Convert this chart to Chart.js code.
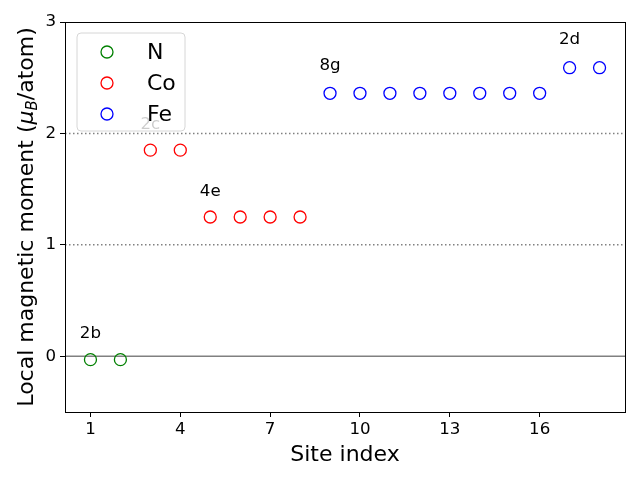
<!DOCTYPE html>
<html>
<head>
<meta charset="utf-8">
<script src="https://cdn.jsdelivr.net/npm/chart.js@4"></script>
<style>
  html, body { margin: 0; padding: 0; background: #fff; }
  #wrap { width: 640px; height: 480px; }
</style>
</head>
<body>
<div id="wrap"><canvas id="momentChart" width="640" height="480"></canvas></div>
<script>
// Dados do gráfico
const nSites = [1, 2];
const nMoments = [-0.03, -0.03];
const coSites = [3, 4, 5, 6, 7, 8];
const coMoments = [1.85, 1.85, 1.25, 1.25, 1.25, 1.25];
const feSites = [9, 10, 11, 12, 13, 14, 15, 16, 17, 18];
const feMoments = [2.36, 2.36, 2.36, 2.36, 2.36, 2.36, 2.36, 2.36, 2.59, 2.59];

const wyckoffLabels = ['2b', '2c', '4e', '8g', '2d'];
const wyckoffX = [1, 3, 5, 9, 17];
const wyckoffY = [0.16, 2.04, 1.44, 2.57, 2.80];

const xTicks = [1, 4, 7, 10, 13, 16];
const yTicks = [0, 1, 2, 3];
const dottedLevels = [1, 2];
const solidLevels = [0];

const seriesNames = ['N', 'Co', 'Fe'];
const colors = { N: '#008000', Co: '#ff0000', Fe: '#0000ff' };

const FONT = "'DejaVu Sans', sans-serif";

function toPoints(xs, ys) {
  return xs.map((x, i) => ({ x: x, y: ys[i] }));
}

function makeDataset(name, xs, ys) {
  return {
    label: name,
    data: toPoints(xs, ys),
    borderColor: colors[name],
    backgroundColor: 'rgba(0,0,0,0)',
    pointRadius: 6,
    pointHoverRadius: 6,
    pointBorderWidth: 1.3,
    pointStyle: 'circle'
  };
}

// Linhas horizontais de referência
const levelLines = {
  id: 'levelLines',
  beforeDatasetsDraw(chart) {
    const { ctx, chartArea: a, scales: { y } } = chart;
    ctx.save();
    ctx.strokeStyle = '#808080';
    ctx.lineWidth = 1.5;
    dottedLevels.forEach(v => {
      const py = y.getPixelForValue(v);
      ctx.setLineDash([1.5, 2.5]);
      ctx.beginPath();
      ctx.moveTo(a.left, py);
      ctx.lineTo(a.right, py);
      ctx.stroke();
    });
    ctx.setLineDash([]);
    solidLevels.forEach(v => {
      const py = y.getPixelForValue(v);
      ctx.beginPath();
      ctx.moveTo(a.left, py);
      ctx.lineTo(a.right, py);
      ctx.stroke();
    });
    ctx.restore();
  }
};

// Rótulos, moldura, legenda e títulos
const decorations = {
  id: 'decorations',
  afterDraw(chart) {
    const { ctx, chartArea: a, scales: { x, y } } = chart;
    ctx.save();

    // rótulos de Wyckoff
    ctx.fillStyle = '#000';
    ctx.font = '16.67px ' + FONT;
    ctx.textAlign = 'center';
    ctx.textBaseline = 'alphabetic';
    wyckoffLabels.forEach((t, i) => {
      ctx.fillText(t, x.getPixelForValue(wyckoffX[i]), y.getPixelForValue(wyckoffY[i]));
    });

    // moldura
    ctx.strokeStyle = '#000';
    ctx.lineWidth = 1;
    ctx.strokeRect(a.left + 0.5, a.top + 0.5, a.right - a.left, a.bottom - a.top);

    // legenda
    const lx = 77, ly = 33, lw = 108, lh = 98, r = 4;
    ctx.beginPath();
    ctx.moveTo(lx + r, ly);
    ctx.arcTo(lx + lw, ly, lx + lw, ly + lh, r);
    ctx.arcTo(lx + lw, ly + lh, lx, ly + lh, r);
    ctx.arcTo(lx, ly + lh, lx, ly, r);
    ctx.arcTo(lx, ly, lx + lw, ly, r);
    ctx.closePath();
    ctx.fillStyle = 'rgba(255,255,255,0.8)';
    ctx.fill();
    ctx.strokeStyle = '#d6d6d6';
    ctx.lineWidth = 1;
    ctx.stroke();

    ctx.font = '22px ' + FONT;
    ctx.textAlign = 'left';
    ctx.textBaseline = 'middle';
    seriesNames.forEach((name, i) => {
      const cy = 52 + i * 31;
      ctx.beginPath();
      ctx.arc(107, cy, 6, 0, Math.PI * 2);
      ctx.strokeStyle = colors[name];
      ctx.lineWidth = 1.3;
      ctx.stroke();
      ctx.fillStyle = '#000';
      ctx.fillText(name, 147, cy + 1);
    });

    // título do eixo x
    ctx.font = '22px ' + FONT;
    ctx.textAlign = 'center';
    ctx.textBaseline = 'alphabetic';
    ctx.fillText('Site index', (a.left + a.right) / 2, 461);

    // título do eixo y com subscrito
    const parts = [
      { t: 'Local magnetic moment (', f: '22px ' + FONT, dy: 0 },
      { t: 'μ', f: 'italic 22px ' + FONT, dy: 0 },
      { t: 'B', f: 'italic 15px ' + FONT, dy: 4 },
      { t: '/atom)', f: '22px ' + FONT, dy: 0 }
    ];
    let total = 0;
    parts.forEach(p => { ctx.font = p.f; p.w = ctx.measureText(p.t).width; total += p.w; });
    ctx.translate(33, (a.top + a.bottom) / 2);
    ctx.rotate(-Math.PI / 2);
    ctx.textAlign = 'left';
    let cx = -total / 2;
    parts.forEach(p => {
      ctx.font = p.f;
      ctx.fillText(p.t, cx, p.dy);
      cx += p.w;
    });

    ctx.restore();
  }
};

new Chart(document.getElementById('momentChart').getContext('2d'), {
  type: 'scatter',
  data: {
    datasets: [
      makeDataset('N', nSites, nMoments),
      makeDataset('Co', coSites, coMoments),
      makeDataset('Fe', feSites, feMoments)
    ]
  },
  options: {
    responsive: false,
    animation: false,
    devicePixelRatio: 1,
    layout: { padding: { left: 0, right: 15, top: 22, bottom: 0 } },
    plugins: {
      legend: { display: false },
      tooltip: { enabled: false }
    },
    scales: {
      x: {
        type: 'linear',
        min: 0.15,
        max: 18.85,
        afterBuildTicks: s => { s.ticks = xTicks.map(v => ({ value: v })); },
        afterFit: s => { s.height = 68; },
        grid: { drawOnChartArea: false, drawTicks: true, tickLength: 5, color: '#000' },
        border: { color: '#000', width: 1 },
        ticks: { color: '#000', font: { family: FONT, size: 16.67 }, padding: 3, maxRotation: 0 }
      },
      y: {
        type: 'linear',
        min: -0.5,
        max: 3,
        afterBuildTicks: s => { s.ticks = yTicks.map(v => ({ value: v })); },
        afterFit: s => { s.width = 65; },
        grid: { drawOnChartArea: false, drawTicks: true, tickLength: 5, color: '#000' },
        border: { color: '#000', width: 1 },
        ticks: { color: '#000', font: { family: FONT, size: 16.67 }, padding: 4 }
      }
    }
  },
  plugins: [levelLines, decorations]
});
</script>
</body>
</html>
